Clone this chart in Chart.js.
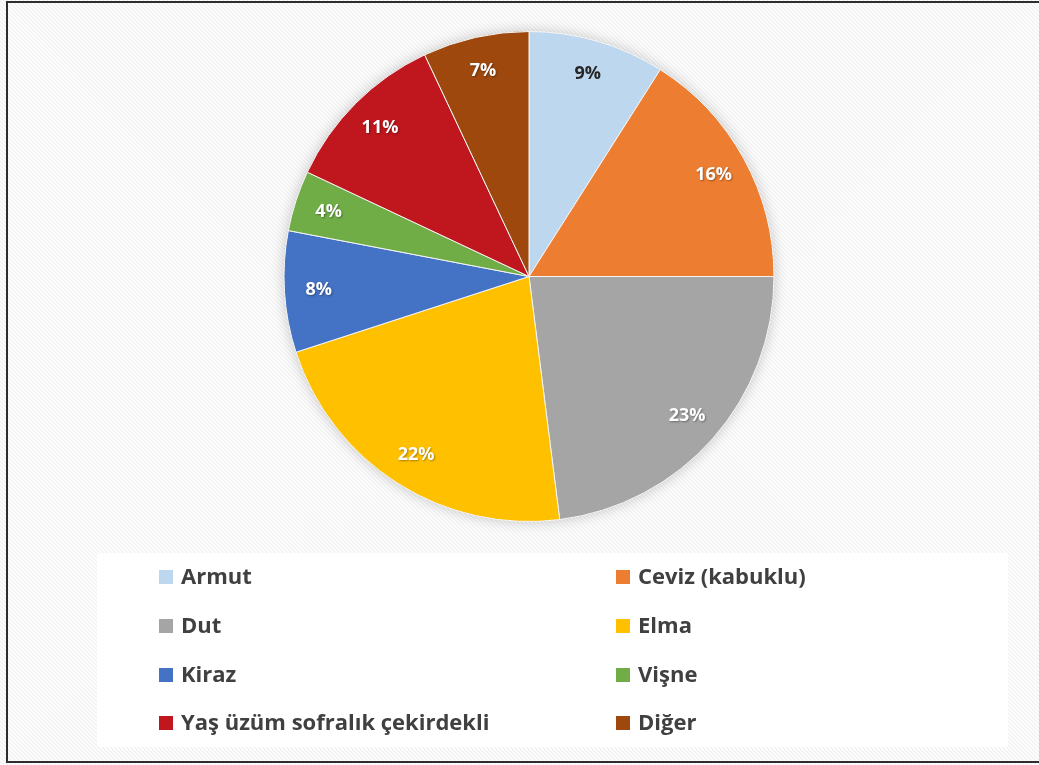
<!DOCTYPE html>
<html>
<head>
<meta charset="utf-8">
<script src="https://cdn.jsdelivr.net/npm/chart.js@4"></script>
<style>
  body { margin: 0; background: #fff; }
  canvas { display: block; }
</style>
</head>
<body>
<canvas id="pie" width="1039" height="765"></canvas>
<script>
// data (percent)
var labels = ['Armut', 'Ceviz (kabuklu)', 'Dut', 'Elma', 'Kiraz', 'Vişne', 'Yaş üzüm sofralık çekirdekli', 'Diğer'];
var shares = [9, 16, 23, 22, 8, 4, 11, 7];
var colors = ['#BDD7EE', '#ED7D31', '#A5A5A5', '#FFC000', '#4472C4', '#70AD47', '#C0161E', '#9E480E'];

var W = 1039, H = 765;

// hatched background, frame and legend box
var backdrop = {
    id: 'backdrop',
    beforeDraw: function (chart) {
        var ctx = chart.ctx;
        ctx.save();
        ctx.fillStyle = '#ffffff';
        ctx.fillRect(0, 0, W, H);
        ctx.strokeStyle = '#efefef';
        ctx.lineWidth = 1.2;
        ctx.beginPath();
        for (var k = -H; k < W; k += 4) {
            ctx.moveTo(k, 0);
            ctx.lineTo(k + H, H);
        }
        ctx.stroke();
        // legend panel
        ctx.fillStyle = '#ffffff';
        ctx.fillRect(97, 553, 911, 194);
        // frame
        ctx.strokeStyle = '#2e2e2e';
        ctx.lineWidth = 2;
        ctx.strokeRect(7, 2, 1040, 760);
        ctx.restore();
    },
    beforeDatasetsDraw: function (chart) {
        var arc = chart.getDatasetMeta(0).data[0];
        if (!arc) return;
        var ctx = chart.ctx;
        ctx.save();
        ctx.shadowColor = 'rgba(0,0,0,0.22)';
        ctx.shadowBlur = 14;
        ctx.fillStyle = '#ffffff';
        ctx.beginPath();
        ctx.arc(arc.x, arc.y, arc.outerRadius, 0, Math.PI * 2);
        ctx.fill();
        ctx.restore();
    }
};

// percent labels inside the slices
var sliceLabels = {
    id: 'sliceLabels',
    afterDatasetsDraw: function (chart) {
        var ctx = chart.ctx;
        var ds = chart.data.datasets[0];
        ctx.save();
        ctx.font = 'bold 18px "Open Sans", Lato, sans-serif';
        ctx.textAlign = 'center';
        ctx.textBaseline = 'middle';
        chart.getDatasetMeta(0).data.forEach(function (arc, i) {
            var a = (arc.startAngle + arc.endAngle) / 2;
            var r = arc.outerRadius * 0.86;
            var x = arc.x + Math.cos(a) * r;
            var y = arc.y + Math.sin(a) * r;
            ctx.shadowColor = i === 0 ? 'rgba(0,0,0,0)' : 'rgba(0,0,0,0.35)';
            ctx.shadowBlur = 2;
            ctx.shadowOffsetX = 1;
            ctx.shadowOffsetY = 1;
            ctx.fillStyle = i === 0 ? '#262626' : '#ffffff';
            ctx.fillText(ds.data[i] + '%', x, y);
        });
        ctx.restore();
    }
};

// two-column legend in the white panel
var gridLegend = {
    id: 'gridLegend',
    afterDraw: function (chart) {
        var ctx = chart.ctx;
        var ds = chart.data.datasets[0];
        var colX = [159, 616];
        var rowY = [577, 626, 675, 723];
        ctx.save();
        ctx.font = 'bold 22px "Open Sans", Lato, sans-serif';
        ctx.textBaseline = 'middle';
        chart.data.labels.forEach(function (lab, i) {
            var x = colX[i % 2];
            var y = rowY[Math.floor(i / 2)];
            ctx.fillStyle = ds.backgroundColor[i];
            ctx.fillRect(x, y - 7, 14, 14);
            ctx.fillStyle = '#404040';
            ctx.fillText(lab, x + 22, y + 1);
        });
        ctx.restore();
    }
};

var ctx = document.getElementById('pie').getContext('2d');
var chart = new Chart(ctx, {
    type: 'pie',
    data: {
        labels: labels,
        datasets: [{
            data: shares,
            backgroundColor: colors,
            borderColor: '#f4f4f4',
            borderWidth: 1
        }]
    },
    options: {
        responsive: false,
        animation: false,
        layout: { padding: { top: 31, bottom: 243, left: 19, right: 0 } },
        plugins: {
            legend: { display: false },
            tooltip: { enabled: false }
        }
    },
    plugins: [backdrop, sliceLabels, gridLegend]
});
</script>
</body>
</html>
